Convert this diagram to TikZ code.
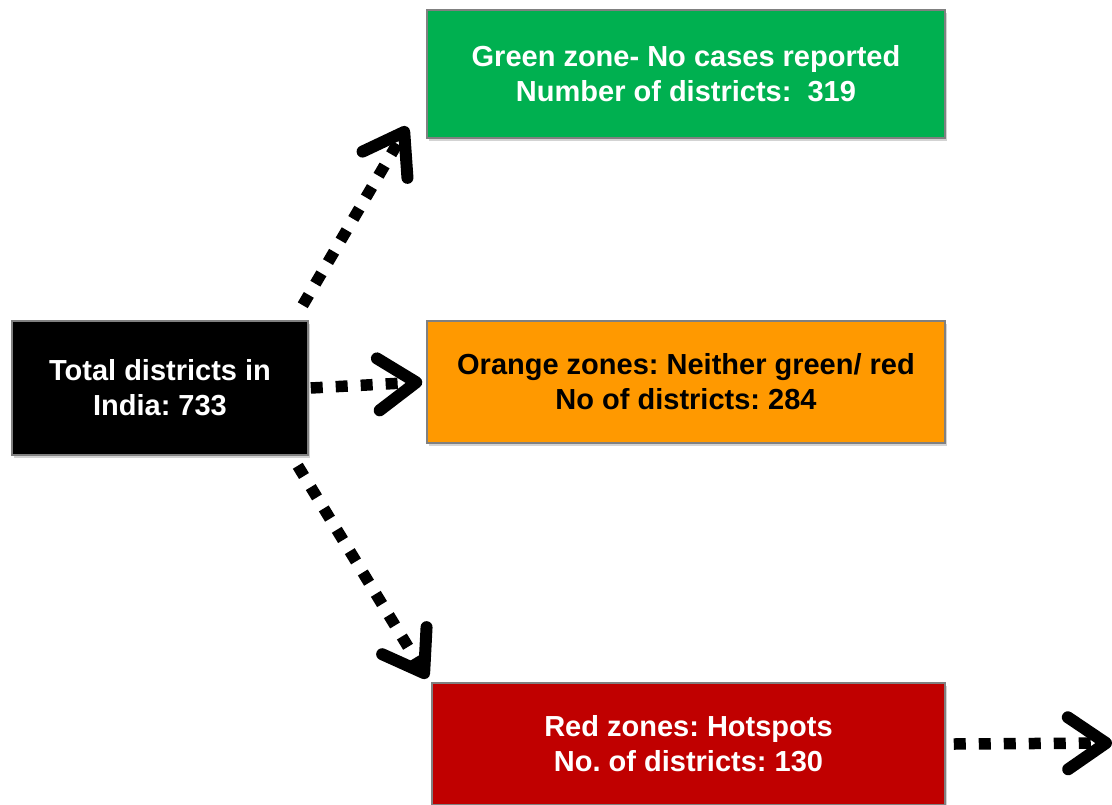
\documentclass[tikz,border=0pt]{standalone}
\usepackage{fontspec}
\setmainfont{Liberation Sans}
\frenchspacing
\usetikzlibrary{arrows.meta,shadows,calc}
\definecolor{zgreen}{HTML}{00B050}
\definecolor{zorange}{HTML}{FF9900}
\definecolor{zred}{HTML}{C00000}
\definecolor{zborder}{HTML}{808080}
\begin{document}
\begin{tikzpicture}[x=1pt,y=-1pt,
  zonebox/.style={draw=zborder,line width=1.5pt,rectangle,align=center,
    font=\fontsize{29}{35}\selectfont\bfseries,inner sep=0pt,
    drop shadow={opacity=0.35,shadow xshift=2pt,shadow yshift=-3pt}},
  dotarrow/.style={line width=11.5pt,dash pattern=on 12pt off 13pt,
    -{Straight Barb[line width=12pt,length=38pt,width=52pt,round]}}
]
\useasboundingbox (0,0) rectangle (1112,804);
\begin{scope}
\clip (0,0) rectangle (1112,804);
\node[zonebox,fill=black,text=white,minimum width=296pt,minimum height=134pt] (total) at (160,388) {Total districts in\\India: 733};
\node[zonebox,fill=zgreen,text=white,minimum width=518pt,minimum height=128pt] (green) at (686,74) {Green zone- No cases reported\\Number of districts:\ \ 319};
\node[zonebox,fill=zorange,text=black,minimum width=518pt,minimum height=122pt] (orange) at (686,382) {Orange zones: Neither green/ red\\No of districts: 284};
\node[zonebox,fill=zred,text=white,minimum width=513pt,minimum height=122pt] (red) at (688.5,744) {Red zones: Hotspots\\No. of districts: 130};
\coordinate (out) at (1112,743);
\draw[dotarrow] ([xshift=-6pt,yshift=15pt]total.north east) -- ([xshift=-19pt,yshift=12pt]green.south west);
\draw[dotarrow] ([xshift=2pt]total.east) -- ([xshift=-4pt]orange.west);
\draw[dotarrow] ([xshift=-11pt,yshift=-10pt]total.south east) -- ([xshift=-4pt,yshift=4pt]red.north west);
\draw[dotarrow] ([xshift=8pt]red.east) -- (out);
\end{scope}
\end{tikzpicture}
\end{document}
